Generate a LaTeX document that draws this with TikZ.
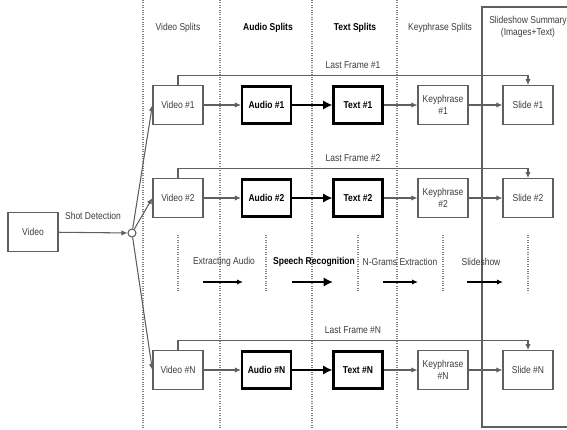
\documentclass[tikz,border=0pt]{standalone}
\usepackage{fontspec}
\setmainfont{Liberation Sans}[FakeStretch=0.85]
\usetikzlibrary{arrows.meta}
\definecolor{splitgray}{RGB}{95,95,95}
\definecolor{guidegray}{RGB}{130,130,130}
\definecolor{labelgray}{RGB}{60,60,60}

\begin{document}
\begin{tikzpicture}[x=0.75pt,y=-0.75pt,
    font=\fontsize{7.5}{8.5}\selectfont,
    thinbox/.style={draw=splitgray, line width=0.9pt, minimum width=37.5pt,
      minimum height=29pt, inner sep=1pt, text=labelgray, align=center},
    thickbox/.style={draw=black, line width=1.8pt, minimum width=36.5pt,
      minimum height=28pt, inner sep=1pt, font=\fontsize{7.5}{8.5}\selectfont\bfseries},
    flow/.style={draw=splitgray, line width=0.8pt, -{Latex[length=4.5pt,width=4pt]}},
    bigflow/.style={draw=black, line width=2pt, -{Latex[length=7pt,width=7pt]}},
    guide/.style={guidegray, densely dotted, line width=0.8pt},
    lbl/.style={text=labelgray},
    hdr/.style={font=\fontsize{7.5}{8.5}\selectfont\bfseries}]
  \useasboundingbox (0,0) rectangle (567,429);

  % long guides between the stages
  \foreach \x in {143,220,312,397}
    \draw[guide] (\x,0) -- (\x,429);
  \draw[splitgray, line width=0.9pt] (567,7) -- (482,7) -- (482,427) -- (567,427);

  % headers
  \node[lbl] (hvid) at (178,28) {Video Splits};
  \node[hdr] (haud) at (268,28) {Audio Splits};
  \node[hdr] (htxt) at (355,28) {Text Splits};
  \node[lbl] (hkey) at (440,28) {Keyphrase Splits};
  \node[lbl, align=center] (hsum) at (528,27) {Slideshow Summary\\(Images+Text)};

  % input and shot detection
  \node[thinbox] (vid) at (33,232) {Video};
  \node[circle, draw=splitgray, fill=white, line width=0.8pt, minimum size=6pt,
    inner sep=0pt] (shot) at (132,233) {};
  \draw[flow] (vid) -- (shot);
  \node[lbl] (shotlbl) at (93,216) {Shot Detection};

  \foreach \r/\y in {1/105, 2/198, N/370} {
    \node[thinbox] (v\r) at (178,\y) {Video \#\r};
    \node[thickbox] (a\r) at (266.5,\y) {Audio \#\r};
    \node[thickbox] (t\r) at (358,\y) {Text \#\r};
    \node[thinbox] (k\r) at (443,\y) {Keyphrase\\\#\r};
    \node[thinbox] (s\r) at (528,\y) {Slide \#\r};
    \draw[flow] (shot) -- (v\r.west);
    \draw[flow] (v\r) -- (a\r);
    \draw[bigflow] (a\r) -- (t\r);
    \draw[flow] (t\r) -- (k\r);
    \draw[flow] (k\r) -- (s\r);
    \draw[flow] (v\r.north) -- ++(0,-10) -| (s\r.north)
      node[pos=0.25, above=1pt, lbl] (lf\r) {Last Frame \#\r};
  }

  % legend of the steps
  \foreach \x in {178,266,358,443,528}
    \draw[guide] (\x,235) -- (\x,292);
  \node[lbl] (stepa) at (224,262) {Extracting Audio};
  \node[hdr] (stepb) at (314,262) {Speech Recognition};
  \node[lbl] (stepc) at (400,262) {N-Grams Extraction};
  \node[lbl] (stepd) at (481,262) {Slideshow};
  \foreach \n/\xa/\xb in {a/203/243, c/383/418, d/467/503} {
    \coordinate (l\n) at (\xa,282);
    \coordinate (r\n) at (\xb,282);
    \draw[flow, draw=black, line width=1pt] (l\n) -- (r\n);
  }
  \coordinate (lb) at (292,282);
  \coordinate (rb) at (333,282);
  \draw[bigflow] (lb) -- (rb);
\end{tikzpicture}
\end{document}
